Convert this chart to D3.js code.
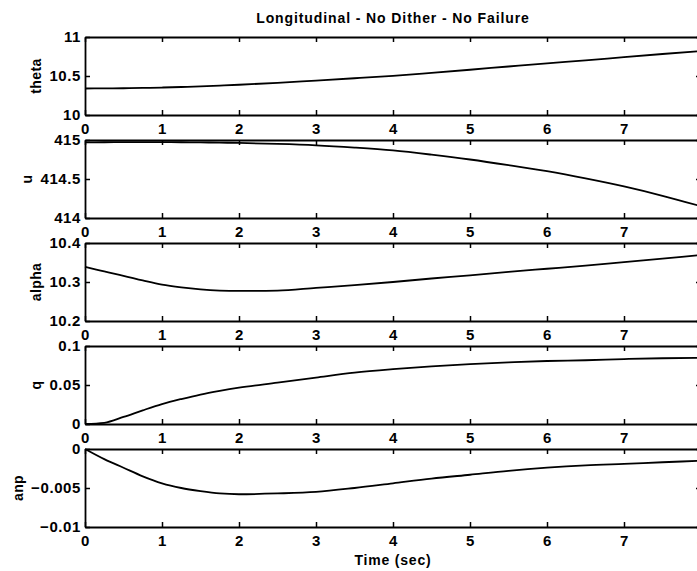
<!DOCTYPE html>
<html>
<head>
<meta charset="utf-8">
<script src="https://cdn.jsdelivr.net/npm/d3@7"></script>
<style>
  html, body { margin: 0; padding: 0; background: #fff; }
  svg { display: block; }
  text { font-family: "Liberation Sans", Arial, Helvetica, sans-serif; font-weight: bold; fill: #000; }
</style>
</head>
<body>
<svg id="chart" width="697" height="571"></svg>
<script>
// Simulation time samples (sec)
const time = [0, 0.25, 0.5, 0.75, 1, 1.25, 1.5, 1.75, 2, 2.5, 3, 3.5, 4, 4.5, 5, 5.5, 6, 6.5, 7, 7.5, 8];

// Longitudinal state histories
const theta = [10.340, 10.341, 10.343, 10.347, 10.352, 10.359, 10.367, 10.377, 10.388, 10.413, 10.442,
               10.471, 10.502, 10.540, 10.580, 10.622, 10.663, 10.700, 10.742, 10.782, 10.820];
const u     = [414.970, 414.971, 414.972, 414.972, 414.972, 414.971, 414.969, 414.966, 414.962, 414.950, 414.932,
               414.903, 414.866, 414.812, 414.750, 414.678, 414.600, 414.508, 414.405, 414.285, 414.150];
const alpha = [10.339, 10.327, 10.316, 10.304, 10.293, 10.286, 10.281, 10.278, 10.277, 10.278, 10.285,
               10.292, 10.300, 10.309, 10.317, 10.326, 10.334, 10.342, 10.351, 10.360, 10.369];
const q     = [0, 0.0015, 0.0090, 0.0175, 0.0255, 0.0320, 0.0378, 0.0425, 0.0466, 0.0530, 0.0595,
               0.0658, 0.0703, 0.0740, 0.0768, 0.0790, 0.0808, 0.0817, 0.0832, 0.0843, 0.0847];
const anp   = [0, -0.0013, -0.0024, -0.0035, -0.0044, -0.0050, -0.0054, -0.0057, -0.0058, -0.0057, -0.0055,
               -0.0050, -0.0044, -0.0038, -0.0033, -0.0028, -0.0024, -0.0021, -0.0019, -0.0017, -0.0015];

// Axis ticks
const timeTicks = [0, 1, 2, 3, 4, 5, 6, 7, 8];
const thetaTicks = [10, 10.5, 11],      thetaLabels = ["10", "10.5", "11"];
const uTicks = [414, 414.5, 415],       uLabels = ["414", "414.5", "415"];
const alphaTicks = [10.2, 10.3, 10.4],  alphaLabels = ["10.2", "10.3", "10.4"];
const qTicks = [0, 0.05, 0.1],          qLabels = ["0", "0.05", "0.1"];
const anpTicks = [-0.01, -0.005, 0],    anpLabels = ["\u22120.01", "\u22120.005", "0"];

const titleText = "Longitudinal - No Dither - No Failure";
const xLabelText = "Time (sec)";

const panels = [
  { name: "theta", values: theta, ticks: thetaTicks, labels: thetaLabels },
  { name: "u",     values: u,     ticks: uTicks,     labels: uLabels },
  { name: "alpha", values: alpha, ticks: alphaTicks, labels: alphaLabels },
  { name: "q",     values: q,     ticks: qTicks,     labels: qLabels },
  { name: "anp",   values: anp,   ticks: anpTicks,   labels: anpLabels }
];

const svg = d3.select("#chart");
const left = 85, right = 701;
const firstTop = 37, panelH = 78, step = 103;
const tickLen = 5;

const x = d3.scaleLinear().domain([0, 8]).range([left, right]);

svg.append("rect").attr("width", 697).attr("height", 571).attr("fill", "#fff");

panels.forEach((p, i) => {
  const top = firstTop + i * step;
  const bottom = top + panelH;
  const dom = [p.ticks[0], p.ticks[p.ticks.length - 1]];
  const y = d3.scaleLinear().domain(dom).range([bottom, top]);
  const g = svg.append("g");

  const styleAxis = sel => {
    sel.select(".domain").attr("stroke", "#000").attr("stroke-width", 1.8);
    sel.selectAll(".tick line").attr("stroke", "#000").attr("stroke-width", 1.5);
    sel.selectAll(".tick text").attr("font-size", 15).attr("font-family", null)
      .attr("letter-spacing", "0.6px");
  };

  // bottom axis with time labels
  g.append("g").attr("transform", `translate(0,${bottom})`)
    .call(d3.axisBottom(x).tickValues(timeTicks).tickFormat(d3.format("d"))
      .tickSizeInner(-tickLen).tickSizeOuter(0).tickPadding(8))
    .call(styleAxis);

  // top axis, ticks only
  g.append("g").attr("transform", `translate(0,${top})`)
    .call(d3.axisTop(x).tickValues(timeTicks).tickFormat("")
      .tickSizeInner(-tickLen).tickSizeOuter(0))
    .call(styleAxis);

  // left axis with value labels
  const leftAxis = g.append("g").attr("transform", `translate(${left},0)`)
    .call(d3.axisLeft(y).tickValues(p.ticks).tickFormat((d, k) => p.labels[k])
      .tickSizeInner(-tickLen).tickSizeOuter(0).tickPadding(4))
    .call(styleAxis);

  // right axis, ticks only
  g.append("g").attr("transform", `translate(${right},0)`)
    .call(d3.axisRight(y).tickValues(p.ticks).tickFormat("")
      .tickSizeInner(-tickLen).tickSizeOuter(0))
    .call(styleAxis);

  // response curve
  const line = d3.line()
    .x((d, k) => x(time[k]))
    .y(d => y(d))
    .curve(d3.curveMonotoneX);
  g.append("path")
    .datum(p.values)
    .attr("fill", "none")
    .attr("stroke", "#000")
    .attr("stroke-width", 1.8)
    .attr("d", line);

  // y-axis label placed left of the widest tick label
  let minLeft = Infinity;
  leftAxis.selectAll(".tick text").each(function () {
    const b = this.getBBox();
    const m = this.getCTM();
    minLeft = Math.min(minLeft, b.x + m.e);
  });
  const cx = minLeft - 13;
  const cy = (top + bottom) / 2;
  g.append("text")
    .attr("transform", `translate(${cx},${cy}) rotate(-90)`)
    .attr("text-anchor", "middle")
    .attr("dy", "0.35em")
    .attr("font-size", 14)
    .attr("letter-spacing", "0.4px")
    .text(p.name);
});

// figure title
svg.append("text")
  .attr("x", (left + right) / 2)
  .attr("y", 23)
  .attr("text-anchor", "middle")
  .attr("font-size", 14)
  .attr("letter-spacing", "0.9px")
  .text(titleText);

// time axis label
svg.append("text")
  .attr("x", (left + right) / 2)
  .attr("y", 565)
  .attr("text-anchor", "middle")
  .attr("font-size", 14)
  .attr("letter-spacing", "0.8px")
  .text(xLabelText);
</script>
</body>
</html>
